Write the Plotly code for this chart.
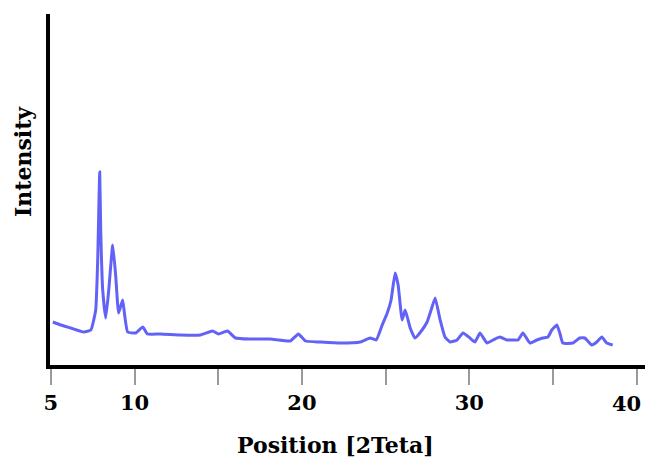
import plotly.graph_objects as go

# 2-theta positions (degrees)
two_theta = [5.12, 5.60, 6.19, 6.97, 7.39, 7.68, 7.80, 7.92, 7.98, 8.10, 8.28, 8.46,
             8.70, 8.88, 9.05, 9.29, 9.41, 9.59, 10.07, 10.49, 10.78, 11.56, 12.75,
             13.94, 14.66, 15.02, 15.55, 16.03, 16.93, 18.12, 19.31, 19.79, 20.21,
             21.10, 22.29, 23.49, 24.08, 24.44, 24.80, 25.10, 25.33, 25.57, 25.75,
             25.99, 26.17, 26.47, 26.76, 27.18, 27.48, 27.72, 27.96, 28.26, 28.55,
             28.85, 29.27, 29.63, 30.04, 30.34, 30.64, 31.06, 31.42, 31.83, 32.25,
             32.61, 32.91, 33.21, 33.62, 34.04, 34.40, 34.70, 34.93, 35.23, 35.41,
             35.59, 36.19, 36.60, 36.90, 37.32, 37.62, 37.92, 38.21, 38.57]

# Intensity (arbitrary units)
intensity = [43, 40, 37, 33, 35, 55, 105, 193, 135, 75, 47, 75,
             120, 88, 52, 65, 50, 33, 32, 38, 31, 31, 30,
             30, 34, 31, 34, 27, 26, 26, 24, 31, 24,
             23, 22, 23, 27, 25, 40, 52, 65, 92, 80,
             45, 55, 37, 27, 35, 43, 55, 67, 45, 28,
             23, 25, 32, 27, 23, 32, 22, 25, 28, 25,
             25, 25, 32, 22, 25, 27, 28, 35, 40, 32,
             22, 22, 27, 27, 20, 23, 28, 22, 20]

tick_vals = [5, 10, 15, 20, 25, 30, 35, 40]
tick_text = ["5", "10", "", "20", "", "30", "", ""]
last_tick_label = "40"   # drawn separately so it stays inside the right edge

x_title = "Position [2Teta]"
y_title = "Intensity"

tick_font = dict(family="DejaVu Serif", size=21, color="black", weight="bold")
title_font = dict(family="DejaVu Serif", size=22, color="black", weight="bold")

fig = go.Figure()
fig.add_trace(go.Scatter(
    x=two_theta, y=intensity, mode="lines",
    line=dict(color="rgba(70,70,245,0.85)", width=3, shape="spline", smoothing=0.4),
    showlegend=False, hoverinfo="x+y",
))

fig.update_layout(
    width=645, height=457,
    margin=dict(l=50, r=0, t=14, b=92),
    paper_bgcolor="white", plot_bgcolor="white",
    xaxis=dict(
        range=[4.95, 40.5], showgrid=False, zeroline=False,
        showline=True, linecolor="black", linewidth=4,
        tickmode="array", tickvals=tick_vals, ticktext=tick_text,
        ticks="outside", ticklen=16, tickwidth=2, tickcolor="#9a9a9a",
        tickfont=tick_font,
        automargin=False,
    ),
    yaxis=dict(
        range=[0, 351], showgrid=False, zeroline=False,
        showline=True, linecolor="black", linewidth=4,
        showticklabels=False, ticks="",
        automargin=False,
    ),
    annotations=[
        dict(text=last_tick_label, font=tick_font, showarrow=False,
             xref="x", yref="paper", x=tick_vals[-1], y=-(403 - 365) / 351,
             xanchor="right", yanchor="middle", xshift=6),
        dict(text=x_title, font=title_font, showarrow=False,
             xref="paper", yref="paper", x=(335 - 50) / 595, y=-(445 - 365) / 351,
             xanchor="center", yanchor="middle"),
        dict(text=y_title, font=title_font, showarrow=False, textangle=-90,
             xref="paper", yref="paper", x=(23 - 50) / 595, y=(365 - 162) / 351,
             xanchor="center", yanchor="middle"),
    ],
)

fig.write_html("out.html", config={"displayModeBar": False},
               post_script="document.body.style.margin='0';document.body.style.overflow='hidden';")
